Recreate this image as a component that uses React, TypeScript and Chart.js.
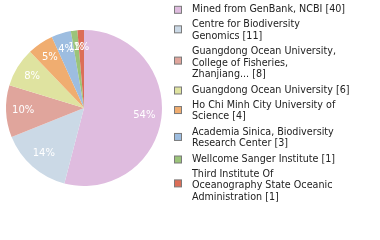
import React, { useEffect, useRef } from "react";
import { Chart, registerables } from "chart.js";

Chart.register(...registerables);

const categories: string[][] = [
  ["Mined from GenBank, NCBI [40]"],
  ["Centre for Biodiversity", "Genomics [11]"],
  ["Guangdong Ocean University,", "College of Fisheries,", "Zhanjiang... [8]"],
  ["Guangdong Ocean University [6]"],
  ["Ho Chi Minh City University of", "Science [4]"],
  ["Academia Sinica, Biodiversity", "Research Center [3]"],
  ["Wellcome Sanger Institute [1]"],
  ["Third Institute Of", "Oceanography State Oceanic", "Administration [1]"],
];
const values: number[] = [40, 11, 8, 6, 4, 3, 1, 1];
const colors: string[] = [
  "#dfbcdf",
  "#cbd9e6",
  "#e0a59c",
  "#dfe3a0",
  "#f0ad70",
  "#9dbde0",
  "#9bc47a",
  "#dc6e57",
];

const FONT = '"DejaVu Sans", sans-serif';

const pctPlugin = {
  id: "pctLabels",
  afterDatasetsDraw(chart: any) {
    const ctx = chart.ctx;
    const meta = chart.getDatasetMeta(0);
    const total = values.reduce((a, b) => a + b, 0);
    ctx.save();
    ctx.fillStyle = "#ffffff";
    ctx.font = `10px ${FONT}`;
    ctx.textAlign = "center";
    ctx.textBaseline = "middle";
    meta.data.forEach((arc: any, i: number) => {
      const p = arc.getProps(["x", "y", "startAngle", "endAngle", "outerRadius"], true);
      const mid = (p.startAngle + p.endAngle) / 2;
      const d = p.outerRadius * 0.78;
      const x = p.x + Math.cos(mid) * d;
      const y = p.y + Math.sin(mid) * d;
      const pct = Math.floor((values[i] / total) * 100);
      ctx.fillText(`${pct}%`, x, y);
    });
    ctx.restore();
  },
};

const legendPlugin = {
  id: "sideLegend",
  afterDraw(chart: any) {
    const ctx = chart.ctx;
    const lineH = 11.7;
    const gap = 3.5;
    const textX = 192;
    const boxX = 174.5;
    const box = 7;
    let y = 9.3;
    ctx.save();
    ctx.font = `9.6px ${FONT}`;
    ctx.textBaseline = "middle";
    ctx.textAlign = "left";
    categories.forEach((lines, i) => {
      const n = lines.length;
      const blockCenter = y + ((n - 1) * lineH) / 2;
      const boxCenter = blockCenter + 0.5 - (n - 1) * 1.5;
      ctx.fillStyle = colors[i];
      ctx.fillRect(boxX, boxCenter - box / 2, box, box);
      ctx.strokeStyle = "#7a7a7a";
      ctx.lineWidth = 1;
      ctx.strokeRect(boxX, boxCenter - box / 2, box, box);
      ctx.fillStyle = "#222222";
      lines.forEach((t, j) => {
        ctx.fillText(t, textX, y + j * lineH);
      });
      y += n * lineH + gap;
    });
    ctx.restore();
  },
};

export default function App() {
  const ref = useRef<HTMLCanvasElement | null>(null);
  useEffect(() => {
    if (!ref.current) return;
    const chart = new Chart(ref.current, {
      type: "pie",
      data: {
        labels: categories.map((l) => l.join(" ")),
        datasets: [
          {
            data: values,
            backgroundColor: colors,
            borderWidth: 0,
          },
        ],
      },
      options: {
        responsive: false,
        animation: false,
        layout: { padding: { left: 6, top: 30, right: 218, bottom: 54 } },
        plugins: {
          legend: { display: false },
          tooltip: { enabled: false },
        },
      },
      plugins: [pctPlugin, legendPlugin],
    });
    return () => chart.destroy();
  }, []);
  return (
    <div style={{ position: "fixed", left: 0, top: 0, width: 380, height: 240, background: "#fff" }}>
      <canvas ref={ref} width={380} height={240} />
    </div>
  );
}
